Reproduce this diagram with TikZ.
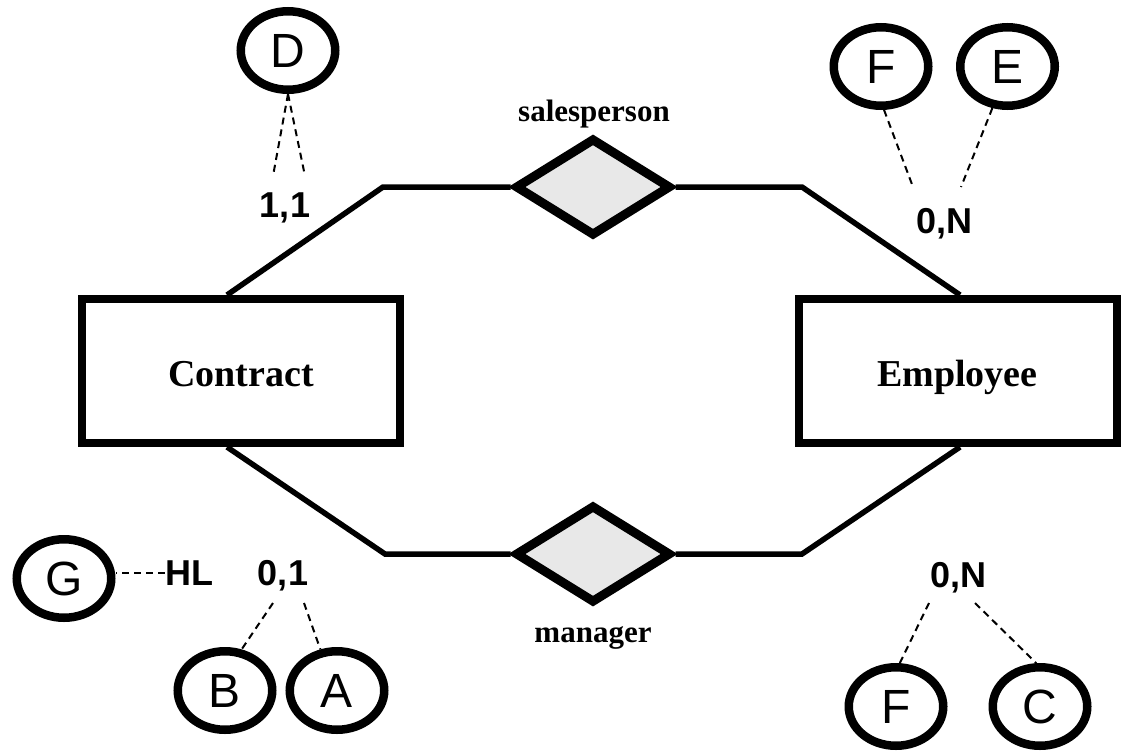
\documentclass[tikz,border=0pt]{standalone}
\usepackage{fontspec}
\newfontfamily\lsans{Liberation Sans}
\newfontfamily\lserif{Liberation Serif}
\usetikzlibrary{shapes.geometric}
\definecolor{relfill}{HTML}{E8E8E8}
\tikzset{
 attr/.style={ellipse, draw, line width=8.5pt, minimum width=94.5pt, minimum height=78.5pt, inner sep=0pt, font=\lsans\fontsize{48}{48}\selectfont},
 entity/.style={rectangle, draw, line width=8pt, minimum width=318pt, minimum height=144pt, inner sep=0pt, text height=30pt, text depth=0pt, font=\lserif\bfseries\fontsize{38}{38}\selectfont},
 rel/.style={diamond, draw, fill=relfill, line width=9pt, minimum width=156pt, minimum height=98pt, aspect=1.6, inner sep=0pt},
 rellabel/.style={font=\lserif\bfseries\fontsize{31}{31}\selectfont, anchor=base, inner sep=0pt},
 card/.style={font=\lsans\bfseries\fontsize{36}{36}\selectfont, anchor=base, inner sep=0pt},
 conn/.style={line width=5.5pt},
 dline/.style={line width=2pt, dash pattern=on 7pt off 5pt},
}
\begin{document}
\begin{tikzpicture}[x=1pt,y=-1pt]
\useasboundingbox (0,0) rectangle (1121,750);

% entities and relationships
\node[entity] (contract) at (241,371) {Contract};
\node[entity] (employee) at (957.5,371) {Employee};
\node[rel] (sales) at (593,187) {};
\node[rel] (mgr) at (593,554) {};
\node[rellabel] (salesl) at (594,121) {salesperson};
\node[rellabel] (mgrl) at (593,642) {manager};

\coordinate (tl) at (383,187);
\coordinate (tr) at (802,187);
\coordinate (bl) at (385,554);
\coordinate (br) at (802,554);

\draw[conn] ([xshift=-14pt]contract.north) -- (tl) -- (sales.west);
\draw[conn] (sales.east) -- (tr) -- ([xshift=2.5pt]employee.north);
\draw[conn] ([xshift=-14pt]contract.south) -- (bl) -- (mgr.west);
\draw[conn] (mgr.east) -- (br) -- ([xshift=2.5pt]employee.south);

% top left
\node[attr] (D) at (288,50.5) {D};
\node[card] (c11) at (285,217) {1,1};
\coordinate (d1) at (273,176);
\coordinate (d2) at (305,176);
\draw[dline] (D.south) -- (d1);
\draw[dline] (D.south) -- (d2);

% top right
\node[attr] (F1) at (881,66.5) {F};
\node[attr] (E) at (1007.5,66.5) {E};
\node[card] (c0n1) at (944.5,233) {0,N};
\coordinate (f1e) at (913,187);
\coordinate (e1e) at (961,187);
\draw[dline] (F1.-86) -- (f1e);
\draw[dline] (E.-110) -- (e1e);

% bottom left
\node[attr] (G) at (64,578.5) {G};
\node[card] (hl) at (189,585) {HL};
\draw[dline] (hl.west) -- (hl.west -| G.east);
\node[card] (c01) at (283,585) {0,1};
\node[attr] (B) at (225,690.5) {B};
\node[attr] (A) at (337,690.5) {A};
\coordinate (b1) at (273,603);
\coordinate (a1) at (304,603);
\draw[dline] (b1) -- (B.68);
\draw[dline] (a1) -- (A.112);

% bottom right
\node[card] (c0n2) at (958,587) {0,N};
\node[attr] (F2) at (896,706.5) {F};
\node[attr] (C) at (1040,706.5) {C};
\coordinate (f2s) at (929,603);
\coordinate (cs) at (975,603);
\draw[dline] (f2s) -- (F2.85);
\draw[dline] (cs) -- (C.95);
\end{tikzpicture}
\end{document}
